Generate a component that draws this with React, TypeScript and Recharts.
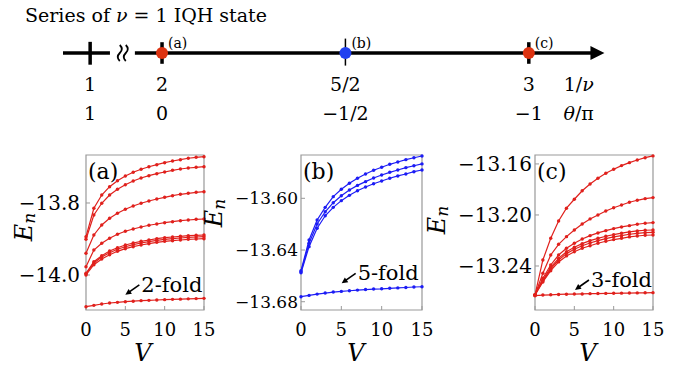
import React from 'react';
import {
  LineChart,
  Line,
  XAxis,
  YAxis,
  ReferenceArea,
  ReferenceDot,
  ReferenceLine,
  ScatterChart,
  Scatter,
} from 'recharts';

const FONT = 'DejaVu Serif';
const RED = '#e0201c';
const BLUE = '#1c1cf5';
const FRAME = '#999';

// ---- top diagram: 1/nu axis (broken between 1 and 2) ----
const axisPos = [1.804, 2, 2.5, 3, 3.136];
const invNuLabels = ['1', '2', '5/2', '3', '1/ν'];
const thetaLabels = ['1', '0', '−1/2', '−1', 'θ/π'];
const states = [
  { x: 2, y: 0, tag: '(a)', color: '#dd3311' },
  { x: 2.5, y: 0, tag: '(b)', color: '#2040f0' },
  { x: 3, y: 0, tag: '(c)', color: '#dd3311' },
];

// ---- spectra E_n(V) ----
const vSteps = [0, 1, 2, 3, 4, 5, 6, 7, 8, 9, 10, 11, 12, 13, 14, 15];

const aLevel1 = [-13.8936, -13.8147, -13.7778, -13.7547, -13.7381, -13.725, -13.7147, -13.7064, -13.6992, -13.6936, -13.6881, -13.6833, -13.6797, -13.6758, -13.6731, -13.6714];
const aLevel2 = [-13.9008, -13.8333, -13.8008, -13.7778, -13.7619, -13.7492, -13.7389, -13.7306, -13.7242, -13.7186, -13.7139, -13.7092, -13.7056, -13.7028, -13.7008, -13.6992];
const aLevel3 = [-13.9397, -13.8889, -13.8611, -13.8425, -13.8286, -13.8175, -13.8083, -13.8008, -13.7944, -13.7889, -13.7842, -13.7797, -13.7758, -13.7731, -13.7703, -13.7686];
const aLevel4 = [-13.9769, -13.9306, -13.9119, -13.8981, -13.8869, -13.8786, -13.8722, -13.8667, -13.8619, -13.8583, -13.8547, -13.8519, -13.8492, -13.8472, -13.8453, -13.8444];
const aLevel5 = [-13.9953, -13.9631, -13.9464, -13.9333, -13.9242, -13.9167, -13.9111, -13.9064, -13.9028, -13.8992, -13.8964, -13.8944, -13.8925, -13.8908, -13.8897, -13.8889];
const aLevel6 = [-13.9972, -13.9667, -13.95, -13.9381, -13.9286, -13.9214, -13.9158, -13.9111, -13.9075, -13.9036, -13.9008, -13.8992, -13.8972, -13.8953, -13.8944, -13.8936];
const aLevel7 = [-14.0, -13.9714, -13.9556, -13.9436, -13.9342, -13.9269, -13.9214, -13.9167, -13.9131, -13.9092, -13.9064, -13.9047, -13.9028, -13.9008, -13.9, -13.8992];
const aGround = [-14.088, -14.0843, -14.0806, -14.0778, -14.0759, -14.0741, -14.0727, -14.0713, -14.0704, -14.0694, -14.0685, -14.0676, -14.067, -14.0662, -14.0656, -14.0648];

const bLevel1 = [-13.656, -13.6323, -13.6168, -13.607, -13.5987, -13.593, -13.5884, -13.5845, -13.5812, -13.5783, -13.576, -13.5737, -13.5719, -13.5701, -13.5686, -13.5673];
const bLevel2 = [-13.6568, -13.6348, -13.6199, -13.6104, -13.6034, -13.598, -13.5936, -13.59, -13.5871, -13.5843, -13.582, -13.5799, -13.5781, -13.5763, -13.5748, -13.5734];
const bLevel3 = [-13.6576, -13.6374, -13.6232, -13.6135, -13.607, -13.6018, -13.5977, -13.5941, -13.5912, -13.5887, -13.5866, -13.5845, -13.5827, -13.5812, -13.5794, -13.5781];
const bGround = [-13.6761, -13.6751, -13.6741, -13.6733, -13.6725, -13.672, -13.6715, -13.671, -13.6706, -13.6702, -13.67, -13.6696, -13.6693, -13.669, -13.6686, -13.6684];

const cLevel1 = [-13.2627, -13.2353, -13.2183, -13.2047, -13.1947, -13.1877, -13.181, -13.1757, -13.1712, -13.1673, -13.1642, -13.1613, -13.159, -13.1569, -13.1551, -13.1537];
const cLevel2 = [-13.2627, -13.2457, -13.2314, -13.223, -13.217, -13.2118, -13.2071, -13.2031, -13.2, -13.1969, -13.1943, -13.1922, -13.19, -13.1885, -13.1872, -13.1864];
const cLevel3 = [-13.2627, -13.2496, -13.2392, -13.2314, -13.2261, -13.2222, -13.2188, -13.2162, -13.2141, -13.2123, -13.2107, -13.2094, -13.2084, -13.2073, -13.2065, -13.206];
const cLevel4 = [-13.2627, -13.251, -13.241, -13.234, -13.2288, -13.2253, -13.2225, -13.2201, -13.2183, -13.2167, -13.2154, -13.2143, -13.2133, -13.2125, -13.212, -13.2118];
const cLevel5 = [-13.2627, -13.2517, -13.2423, -13.2353, -13.2303, -13.2269, -13.2241, -13.222, -13.2201, -13.2186, -13.2172, -13.2162, -13.2151, -13.2144, -13.2139, -13.2136];
const cLevel6 = [-13.2627, -13.2525, -13.2437, -13.2368, -13.2321, -13.2288, -13.2261, -13.2241, -13.2222, -13.2206, -13.2193, -13.2183, -13.2172, -13.2165, -13.2159, -13.2157];
const cGround = [-13.2633, -13.2628, -13.2626, -13.2623, -13.2621, -13.262, -13.2619, -13.2617, -13.2616, -13.2615, -13.2614, -13.2613, -13.2612, -13.2611, -13.261, -13.2609];

const vTicks = [0, 5, 10, 15];

// italic greek letters like TeX math
function mathText(s: string) {
  return s.split('').map((ch, i) =>
    ch === 'ν' || ch === 'θ' ? (
      <tspan key={i} fontStyle="italic">{ch}</tspan>
    ) : (
      <tspan key={i}>{ch}</tspan>
    ),
  );
}

function StateTick(props: any) {
  const { x, y, index } = props;
  return (
    <g fontFamily={FONT} fontSize={19} fill="#000">
      <text x={x} y={y + 20} textAnchor="middle">{mathText(invNuLabels[index])}</text>
      <text x={x} y={y + 49} textAnchor="middle">{mathText(thetaLabels[index])}</text>
    </g>
  );
}

function StateDot(props: any) {
  const { cx, cy, payload } = props;
  return (
    <g>
      <circle cx={cx} cy={cy} r={6} fill={payload.color} />
      <text x={cx + 6} y={cy - 5} fontSize={14} fontFamily={FONT} fill="#000">{payload.tag}</text>
    </g>
  );
}

function ArrowHead(props: any) {
  const { cx, cy } = props;
  return <path d={`M ${cx + 14} ${cy} L ${cx} ${cy - 7} L ${cx} ${cy + 7} Z`} fill="#000" />;
}

function AxisBreak(props: any) {
  const { cx, cy } = props;
  const s = (x0: number) => `M ${x0} ${cy - 8} q 4 4 0 8 q -4 4 0 8`;
  return (
    <g fill="none" stroke="#000" strokeWidth={1.8}>
      <path d={s(cx - 3)} />
      <path d={s(cx + 3)} />
    </g>
  );
}

function FillingAxis() {
  return (
    <ScatterChart width={693} height={140} margin={{ top: 35, right: 89, left: 63, bottom: 0 }}>
      <XAxis
        dataKey="x"
        type="number"
        domain={[1.73, 3.205]}
        ticks={axisPos}
        interval={0}
        height={69}
        axisLine={false}
        tickLine={false}
        tickSize={0}
        tickMargin={0}
        tick={<StateTick />}
      />
      <YAxis dataKey="y" type="number" domain={[-1, 1]} hide />
      <ReferenceLine segment={[{ x: 1.73, y: 0 }, { x: 1.858, y: 0 }]} stroke="#000" strokeWidth={3.5} />
      <ReferenceLine segment={[{ x: 1.926, y: 0 }, { x: 3.17, y: 0 }]} stroke="#000" strokeWidth={3.5} />
      <ReferenceLine segment={[{ x: axisPos[0], y: -0.65 }, { x: axisPos[0], y: 0.62 }]} stroke="#000" strokeWidth={3.5} />
      <ReferenceLine segment={[{ x: axisPos[1], y: -0.6 }, { x: axisPos[1], y: 0.6 }]} stroke="#000" strokeWidth={3.5} />
      <ReferenceLine segment={[{ x: axisPos[2], y: -0.7 }, { x: axisPos[2], y: 0.8 }]} stroke="#000" strokeWidth={1.5} />
      <ReferenceLine segment={[{ x: axisPos[3], y: -0.6 }, { x: axisPos[3], y: 0.6 }]} stroke="#000" strokeWidth={3.5} />
      <ReferenceDot x={1.893} y={0} r={0} shape={(p: any) => <AxisBreak {...p} />} />
      <ReferenceDot x={3.168} y={0} r={0} shape={(p: any) => <ArrowHead {...p} />} />
      <Scatter data={states} shape={(p: any) => <StateDot {...p} />} isAnimationActive={false} />
    </ScatterChart>
  );
}

function EnLabel(props: any) {
  const { px, py } = props;
  return (
    <text
      x={px}
      y={py}
      transform={`rotate(-90 ${px} ${py})`}
      textAnchor="middle"
      dominantBaseline="central"
      fontFamily={FONT}
      fontSize={24}
      fontStyle="italic"
      fill="#000"
    >
      E<tspan fontSize={17} dy={5}>n</tspan>
    </text>
  );
}

function VLabel(props: any) {
  const { px, py } = props;
  return (
    <text x={px} y={py} textAnchor="middle" dominantBaseline="central" fontFamily={FONT} fontSize={24} fontStyle="italic" fill="#000">
      V
    </text>
  );
}

function PanelTag(props: any) {
  const vb = props.viewBox || {};
  return (
    <text x={vb.x + 2} y={vb.y + 24} fontFamily={FONT} fontSize={22} fill="#000">
      {props.text}
    </text>
  );
}

function FoldNote(props: any) {
  const { cx, cy, text } = props;
  return (
    <g>
      <line x1={cx + 4} y1={cy - 3} x2={cx + 14} y2={cy - 10} stroke="#000" strokeWidth={1.6} />
      <path d={`M ${cx} ${cy} L ${cx + 3.2} ${cy - 5.9} L ${cx + 6.6} ${cy - 1.1} Z`} fill="#000" />
      <text x={cx + 16} y={cy - 3} fontFamily={FONT} fontSize={21} fill="#000">{text}</text>
    </g>
  );
}

type PanelProps = {
  left: number;
  width: number;
  yAxisWidth: number;
  marginRight: number;
  levels: number[][];
  color: string;
  domain: [number, number];
  yTicks: number[];
  digits: number;
  yFont: number;
  yTickMargin: number;
  tag: string;
  fold: string;
  foldAt: [number, number];
  enAt: [number, number];
  vAt: [number, number];
};

function SpectrumPanel(p: PanelProps) {
  const rows = vSteps.map((V, i) => {
    const r: Record<string, number> = { V };
    p.levels.forEach((s, k) => {
      r['s' + k] = s[i];
    });
    return r;
  });
  return (
    <div style={{ position: 'absolute', left: p.left, top: 140 }}>
      <LineChart width={p.width} height={229} data={rows} margin={{ top: 15, right: p.marginRight, left: 0, bottom: 0 }}>
        <XAxis
          dataKey="V"
          type="number"
          domain={[0, 15]}
          ticks={vTicks}
          interval={0}
          height={59}
          axisLine={false}
          tickSize={-4}
          tickMargin={17}
          tickLine={{ stroke: FRAME }}
          tick={{ fontSize: 18, fill: '#000', fontFamily: FONT }}
          label={<VLabel px={p.vAt[0]} py={p.vAt[1]} />}
        />
        <YAxis
          type="number"
          domain={p.domain}
          ticks={p.yTicks}
          interval={0}
          width={p.yAxisWidth}
          axisLine={false}
          tickSize={-4}
          tickMargin={p.yTickMargin}
          tickLine={{ stroke: FRAME }}
          tick={{ fontSize: p.yFont, fill: '#000', fontFamily: FONT }}
          tickFormatter={(v: number) => '−' + Math.abs(v).toFixed(p.digits)}
          label={<EnLabel px={p.enAt[0]} py={p.enAt[1]} />}
        />
        <ReferenceArea
          x1={0}
          x2={15}
          y1={p.domain[0]}
          y2={p.domain[1]}
          fill="none"
          stroke={FRAME}
          strokeWidth={1.2}
          label={<PanelTag text={p.tag} />}
        />
        {p.levels.map((_, k) => (
          <Line
            key={k}
            dataKey={'s' + k}
            type="linear"
            stroke={p.color}
            strokeWidth={1.2}
            dot={{ r: 1.7, fill: p.color, stroke: 'none' }}
            isAnimationActive={false}
          />
        ))}
        <ReferenceDot x={p.foldAt[0]} y={p.foldAt[1]} r={0} shape={(d: any) => <FoldNote {...d} text={p.fold} />} />
      </LineChart>
    </div>
  );
}

export default function App() {
  return (
    <div style={{ position: 'absolute', left: 0, top: 0, width: 693, height: 369, background: '#fff' }}>
      <div style={{ position: 'absolute', left: 25, top: 6, fontSize: 19, lineHeight: 1, whiteSpace: 'nowrap', color: '#000', fontFamily: FONT }}>
        Series of <i>ν</i> = 1 IQH state
      </div>
      <div style={{ position: 'absolute', left: 0, top: 0 }}>
        <FillingAxis />
      </div>
      <SpectrumPanel
        left={0}
        width={230}
        yAxisWidth={86}
        marginRight={26}
        levels={[aLevel1, aLevel2, aLevel3, aLevel4, aLevel5, aLevel6, aLevel7, aGround]}
        color={RED}
        domain={[-14.0972, -13.6667]}
        yTicks={[-14.0, -13.8]}
        digits={1}
        yFont={20}
        yTickMargin={10}
        tag="(a)"
        fold="2-fold"
        foldAt={[5.0, -14.055]}
        enAt={[24, 87]}
        vAt={[143, 213]}
      />
      <SpectrumPanel
        left={200}
        width={245}
        yAxisWidth={101}
        marginRight={23}
        levels={[bLevel1, bLevel2, bLevel3, bGround]}
        color={BLUE}
        domain={[-13.6864, -13.5665]}
        yTicks={[-13.68, -13.64, -13.6]}
        digits={2}
        yFont={17}
        yTickMargin={7}
        tag="(b)"
        fold="5-fold"
        foldAt={[5.04, -13.6658]}
        enAt={[14, 73]}
        vAt={[156, 213]}
      />
      <SpectrumPanel
        left={415}
        width={278}
        yAxisWidth={120}
        marginRight={40}
        levels={[cLevel1, cLevel2, cLevel3, cLevel4, cLevel5, cLevel6, cGround]}
        color={RED}
        domain={[-13.2745, -13.153]}
        yTicks={[-13.24, -13.2, -13.16]}
        digits={2}
        yFont={20}
        yTickMargin={7}
        tag="(c)"
        fold="3-fold"
        foldAt={[5.08, -13.2588]}
        enAt={[22, 80]}
        vAt={[173, 213]}
      />
    </div>
  );
}
